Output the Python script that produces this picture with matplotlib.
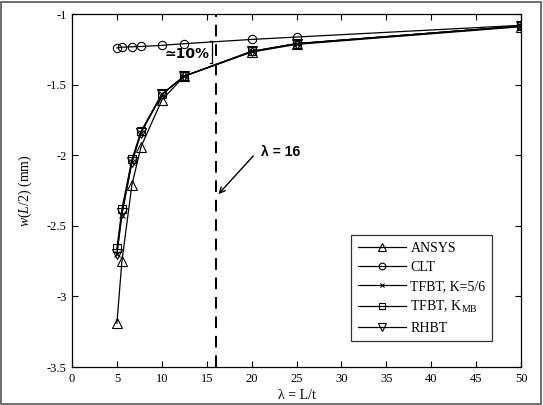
import numpy as np
import matplotlib
matplotlib.use('Agg')
import matplotlib.pyplot as plt

# slenderness ratio lambda = L/t
lam = [5, 5.56, 6.67, 7.69, 10, 12.5, 20, 25, 50]

# mid-span deflection w(L/2) in mm
w_ansys = [-3.19, -2.75, -2.21, -1.94, -1.61, -1.44, -1.27, -1.215, -1.09]
w_clt = [-1.24, -1.235, -1.232, -1.23, -1.222, -1.21, -1.18, -1.163, -1.08]
w_tfbt56 = [-2.70, -2.42, -2.05, -1.84, -1.57, -1.44, -1.265, -1.21, -1.085]
w_tfbt_mb = [-2.66, -2.38, -2.03, -1.83, -1.567, -1.44, -1.265, -1.21, -1.085]
w_rhbt = [-2.70, -2.41, -2.05, -1.84, -1.57, -1.44, -1.265, -1.21, -1.085]

xticks = np.arange(0, 51, 5)
yticks = [-3.5, -3, -2.5, -2, -1.5, -1]

serif = 'Liberation Serif'
sans = 'Liberation Sans'
plt.rcParams['mathtext.fontset'] = 'custom'
plt.rcParams['mathtext.rm'] = serif
plt.rcParams['mathtext.it'] = serif + ':italic'

fig = plt.figure(figsize=(5.43, 4.05), dpi=100)
fig.patches.append(plt.Rectangle((0.002, 0.003), 0.995, 0.993, transform=fig.transFigure,
                                 fill=False, edgecolor='#555555', linewidth=1.2))
ax = fig.add_axes([0.1326, 0.0938, 0.8269, 0.8716])

kw = dict(color='black', linewidth=0.9, markerfacecolor='none', markeredgecolor='black',
          markeredgewidth=0.8)
ax.plot(lam, w_ansys, marker='^', markersize=7, label='ANSYS', **kw)
ax.plot(lam, w_clt, marker='o', markersize=6, label='CLT', **kw)
ax.plot(lam, w_tfbt56, marker='x', markersize=4, label='TFBT, K=5/6', **kw)
ax.plot(lam, w_tfbt_mb, marker='s', markersize=6, label=r'TFBT, K$_{\mathregular{MB}}$', **kw)
ax.plot(lam, w_rhbt, marker='v', markersize=7, label='RHBT', **kw)

# lambda = 16 boundary
ax.axvline(16, color='black', linestyle=(0, (6, 4)), linewidth=1.4)
ax.annotate('', xy=(16.1, -2.29), xytext=(20.4, -1.99),
            arrowprops=dict(arrowstyle='->', color='black', linewidth=1.0))
ax.text(21.0, -1.975, 'λ = 16', fontsize=10, fontweight='bold', family=sans,
        ha='left', va='center')

# 10% gap bracket
ax.plot([15.6, 15.6], [-1.19, -1.345], color='black', linewidth=0.9)
ax.plot([15.35, 15.6], [-1.19, -1.19], color='black', linewidth=0.9)
ax.plot([15.35, 15.6], [-1.345, -1.345], color='black', linewidth=0.9)
ax.text(15.3, -1.28, '≃10%', fontsize=10, fontweight='bold', family=['DejaVu Sans'],
        ha='right', va='center')

ax.set_xlim(0, 50)
ax.set_ylim(-3.5, -1)
ax.set_xticks(xticks)
ax.set_yticks(yticks)
ax.set_xticklabels([str(v) for v in xticks], family=serif, fontsize=9)
ax.set_yticklabels(['%g' % v for v in yticks], family=serif, fontsize=9)
ax.tick_params(direction='in', top=True, right=True, length=4, width=0.8, pad=4)
for s in ax.spines.values():
    s.set_linewidth(0.9)

ax.set_xlabel('λ = L/t', family=serif, fontsize=10, labelpad=3)
ax.set_ylabel(r'$w(L/2)$ (mm)', family=serif, fontsize=10, labelpad=9)

leg = ax.legend(loc='lower right', bbox_to_anchor=(0.935, 0.074), prop={'family': serif, 'size': 10},
                frameon=True, fancybox=False, edgecolor='black', handlelength=3.5,
                borderpad=0.45, labelspacing=0.45, handletextpad=0.3, markerscale=0.8,
                borderaxespad=0)
leg.get_frame().set_linewidth(0.9)

fig.savefig('out.png', dpi=100)
